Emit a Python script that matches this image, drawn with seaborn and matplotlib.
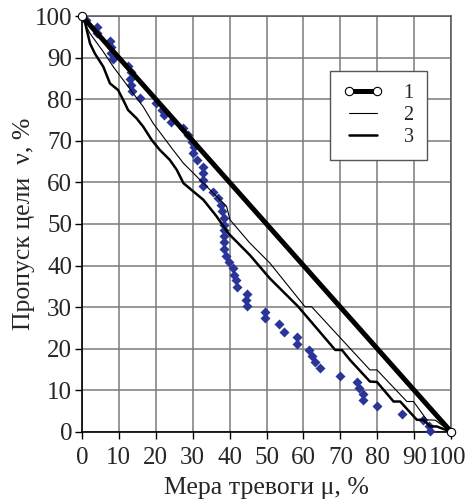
import numpy as np
import pandas as pd
import matplotlib
matplotlib.use('Agg')
import matplotlib.pyplot as plt
import matplotlib.transforms as mtransforms
import seaborn as sns

# line 1: ideal diagonal
L1_X = [0, 100]
L1_Y = [100, 0]

# line 2: thin curve
L2_X = [0, 0.8, 2.2, 5.8, 8.5, 11.2, 13.9, 16.6, 19.3, 22.0, 24.7, 27.5, 31.1, 35.6, 39.2,
        40.1, 45.5, 50.9, 60.4, 62.2, 78.0, 79.9, 88.0, 89.8, 93.4, 95.7, 100]
L2_Y = [100, 98.2, 95.8, 91.4, 87.8, 84.6, 81.4, 78.2, 74.2, 71.0, 67.8, 64.6, 61.4, 57.4, 54.2,
        51.0, 45.4, 40.6, 30.1, 30.1, 14.9, 14.9, 7.3, 7.3, 2.9, 2.8, 0]

# line 3: medium curve
L3_X = [0, 0.8, 2.2, 3.5, 5.8, 7.6, 9.8, 11.2, 12.5, 14.8, 16.6, 18.9, 21.1, 23.8, 25.7, 27.5,
        30.2, 32.9, 36.5, 39.7, 45.5, 50.9, 58.6, 68.6, 70.4, 72.6, 78.0, 79.9, 84.4, 86.2,
        90.7, 92.5, 94.3, 96.1, 100]
L3_Y = [100, 98.6, 93.4, 91.0, 87.8, 83.8, 82.2, 79.8, 77.4, 75.4, 73.4, 70.2, 67.8, 65.4, 63.0, 59.8,
        57.8, 55.8, 51.8, 47.7, 42.5, 36.9, 30.1, 19.7, 19.7, 17.3, 12.1, 12.0, 7.3, 7.3,
        2.9, 2.9, 1.3, 1.3, 0]

# experimental points
PTS_X = [1.2, 4.2, 4.0, 7.6, 7.8, 8.0, 8.5, 12.5, 13.2, 13.0, 13.3, 13.7, 15.7, 20.2, 21.6, 22.3,
         24.1, 27.3, 28.8, 29.7, 30.4, 30.2, 31.3, 32.9, 32.9, 32.9, 32.9, 35.4, 36.9, 37.7,
         37.9, 38.5, 38.5, 38.5, 38.5, 38.5, 38.5, 39.0, 39.9, 41.0, 41.2, 41.7, 42.1, 44.6,
         44.4, 44.6, 49.6, 49.6, 53.5, 54.7, 58.3, 58.2, 61.6, 62.2, 63.2, 64.5, 69.9, 74.6,
         75.0, 76.2, 76.2, 79.9, 86.6, 92.3, 94.0, 94.2]
PTS_Y = [99.0, 97.4, 95.8, 94.1, 92.6, 91.0, 89.6, 88.0, 86.6, 84.8, 83.4, 82.0, 80.4, 79.0, 77.4, 76.2,
         74.4, 73.0, 71.4, 69.8, 68.4, 67.0, 65.4, 63.8, 62.2, 60.6, 59.1, 57.8, 56.2, 54.6,
         53.0, 51.4, 49.8, 48.6, 47.1, 45.7, 43.9, 42.3, 40.9, 39.3, 37.7, 36.4, 34.8, 33.2,
         31.7, 30.3, 28.8, 27.3, 25.9, 24.1, 22.8, 21.2, 19.7, 18.3, 16.8, 15.3, 13.5, 12.1,
         10.6, 9.1, 7.7, 6.1, 4.4, 2.9, 1.5, 0.1]

TICKS = list(range(0, 101, 10))
LABELS = ["1", "2", "3"]

sns.set_style("white")
plt.rcParams['font.family'] = ['Liberation Serif', 'DejaVu Serif']

fig = plt.figure(figsize=(4.68, 5.01), dpi=100)
ax = fig.add_axes([0.175, 0.138, 0.789, 0.830])

ax.grid(True, color="#7a7a7a", lw=1.1)
ax.set_axisbelow(True)

pts = pd.DataFrame({"x": PTS_X, "y": PTS_Y})
sns.scatterplot(data=pts, x="x", y="y", ax=ax, marker="D", s=26, color="#2b3598",
                edgecolor="#2b3598", linewidth=0, zorder=3, clip_on=False)

d2 = pd.DataFrame({"x": L2_X, "y": L2_Y})
d3 = pd.DataFrame({"x": L3_X, "y": L3_Y})
d1 = pd.DataFrame({"x": L1_X, "y": L1_Y})
sns.lineplot(data=d2, x="x", y="y", ax=ax, sort=False, estimator=None, color="black",
             lw=0.8, label=LABELS[1], zorder=4)
sns.lineplot(data=d3, x="x", y="y", ax=ax, sort=False, estimator=None, color="black",
             lw=1.8, label=LABELS[2], zorder=4)
sns.lineplot(data=d1, x="x", y="y", ax=ax, sort=False, estimator=None, color="black",
             lw=3.6, marker="o", markersize=6, markerfacecolor="white",
             markeredgecolor="black", markeredgewidth=0.8, label=LABELS[0], zorder=5,
             clip_on=False)

ax.set_xlim(0, 100)
ax.set_ylim(0, 100)
ax.set_xticks(TICKS)
ax.set_yticks(TICKS)
ax.tick_params(axis="both", labelsize=18, length=5, width=1, direction="out",
               color="black", bottom=True, left=True)
ax.tick_params(axis="x", pad=6)
ax.tick_params(axis="y", pad=2)
for side in ["left", "bottom"]:
    ax.spines[side].set_color("black")
    ax.spines[side].set_linewidth(1.2)
for side in ["top", "right"]:
    ax.spines[side].set_color("#555555")
    ax.spines[side].set_linewidth(1.1)

# keep the last x tick label inside the canvas
last = ax.get_xticklabels()[-1]
last.set_transform(last.get_transform() +
                   mtransforms.ScaledTranslation(-4 / 100, 0, fig.dpi_scale_trans))

ax.set_xlabel("Мера тревоги μ, %", fontsize=18.5, labelpad=6)
ax.set_ylabel("Пропуск цели  ν, %", fontsize=18.5, labelpad=0)

h, l = ax.get_legend_handles_labels()
order = [l.index(k) for k in LABELS]
leg = ax.legend([h[i] for i in order], [l[i] for i in order], loc="upper left",
                bbox_to_anchor=(0.672, 0.869), numpoints=2, fontsize=14.5,
                frameon=True, fancybox=False, framealpha=1, edgecolor="#555555",
                handlelength=2.0, handletextpad=1.0, borderpad=0.65, labelspacing=0.15,
                borderaxespad=0)
leg.get_frame().set_linewidth(1.0)

fig.savefig("out.png", dpi=100)
